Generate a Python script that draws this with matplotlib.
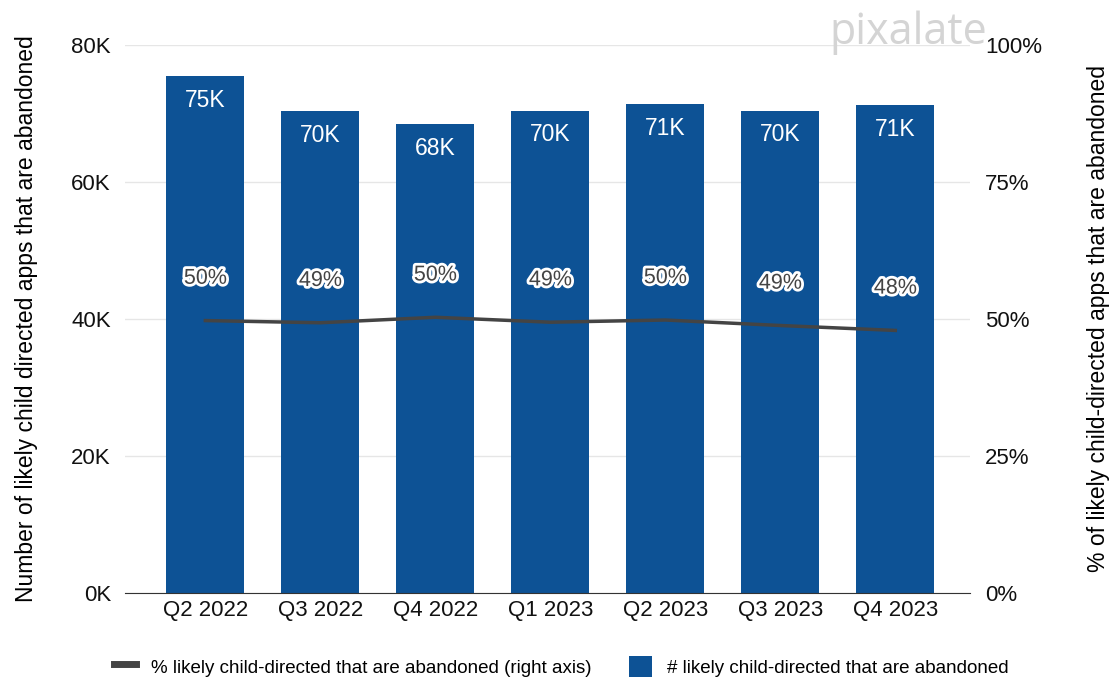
import matplotlib
matplotlib.use("Agg")
import matplotlib.pyplot as plt
import matplotlib.patheffects as pe
from matplotlib.lines import Line2D
from matplotlib.patches import Patch
import numpy as np

plt.rcParams['font.family'] = ['Liberation Sans', 'DejaVu Sans']

quarters = ["Q2 2022", "Q3 2022", "Q4 2022", "Q1 2023", "Q2 2023", "Q3 2023", "Q4 2023"]
abandoned = [75.4, 70.3, 68.4, 70.4, 71.3, 70.4, 71.2]      # thousands of apps
abandoned_pct = [49.7, 49.3, 50.3, 49.4, 49.8, 48.8, 47.9]  # percent

bar_color = "#0d5295"
line_color = "#444444"

fig = plt.figure(figsize=(11.15, 6.8), dpi=100)
ax = fig.add_axes([0.112, 0.128, 0.758, 0.806])
ax2 = ax.twinx()

x = np.arange(len(quarters))
bars = ax.bar(x, abandoned, width=0.68, color=bar_color, zorder=2)
for xi, v in zip(x, abandoned):
    ax.text(xi, v - 1.8, f"{v:.0f}K", ha="center", va="top", color="white", fontsize=16.5)

ax.set_xlim(-0.7, 6.65)
ax.set_ylim(0, 80)
ax.set_yticks([0, 20, 40, 60, 80])
ax.set_yticklabels(["0K", "20K", "40K", "60K", "80K"])
ax.grid(axis="y", color="#e6e6e6", lw=1, zorder=0)
ax.set_axisbelow(True)
ax.set_xticks(x)
ax.set_xticklabels(quarters)
ax.tick_params(length=0, labelsize=16, colors="#111111")
ax.tick_params(axis="x", pad=5)
ax.tick_params(axis="y", pad=10)
for s in ["top", "left", "right"]:
    ax.spines[s].set_visible(False)
ax.spines["bottom"].set_color("#333333")
ax.set_ylabel("Number of likely child directed apps that are abandoned", fontsize=16.5, labelpad=24)

ax2.plot(x, abandoned_pct, color=line_color, lw=2.5, zorder=3)
for xi, p in zip(x, abandoned_pct):
    ax2.text(xi, p + 5.8, f"{p:.0f}%", ha="center", va="bottom", color="#444444", fontsize=15.5,
             path_effects=[pe.withStroke(linewidth=4, foreground="white")])
ax2.set_ylim(0, 100)
ax2.set_yticks([0, 25, 50, 75, 100])
ax2.set_yticklabels(["0%", "25%", "50%", "75%", "100%"])
ax2.tick_params(length=0, labelsize=16, colors="#111111", pad=11)
for s in ["top", "left", "right", "bottom"]:
    ax2.spines[s].set_visible(False)
ax2.set_ylabel("% of likely child-directed apps that are abandoned", fontsize=16.5,
               rotation=90, labelpad=32)

fig.text(0.815, 0.952, "pixalate", fontsize=31, color="#d4d4d4", ha="center", va="center",
         family="Open Sans")

handles = [
    Line2D([0], [0], color=line_color, lw=5),
    Patch(facecolor=bar_color),
]
labels = ["% likely child-directed that are abandoned (right axis)",
          "# likely child-directed that are abandoned"]
fig.legend(handles, labels, loc="center", bbox_to_anchor=(0.503, 0.02), ncol=2, frameon=False,
           fontsize=13.5, handlelength=1.2, handleheight=1.4, columnspacing=2.0)

fig.savefig("out.png", dpi=100)
